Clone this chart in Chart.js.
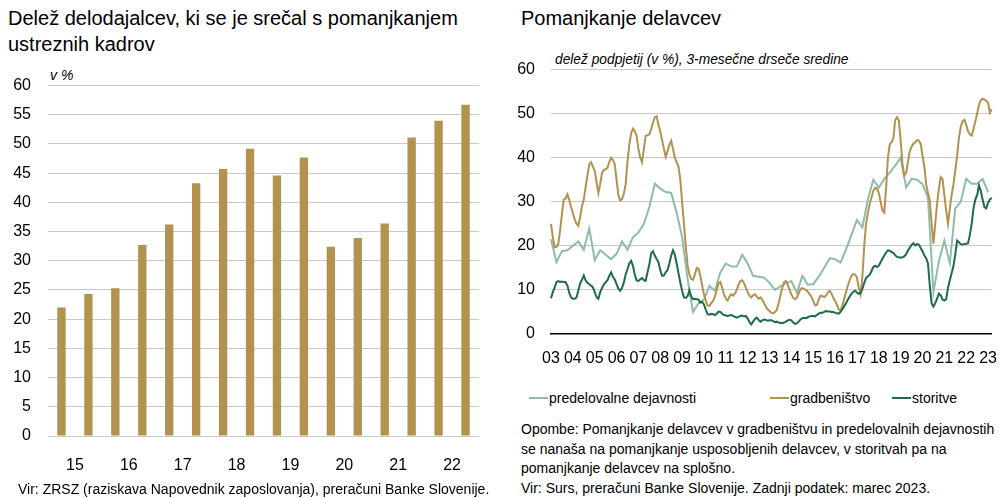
<!DOCTYPE html>
<html>
<head>
<meta charset="utf-8">
<script src="https://cdn.jsdelivr.net/npm/chart.js@4.4.1/dist/chart.umd.min.js"></script>
<style>
  body { margin: 0; background: #fff; font-family: 'Liberation Sans', Arial, sans-serif; color: #000; }
  #page { position: relative; width: 999px; height: 498px; overflow: hidden; }
  .txt { position: absolute; white-space: nowrap; }
  .title { font-size: 20px; line-height: 26px; }
  .small { font-size: 14px; line-height: 19.5px; }
  .it { font-style: italic; font-size: 13.75px; }
  .lg { position: absolute; font-size: 14px; white-space: nowrap; top: 390px; }
  .lg i { display: inline-block; width: 19px; height: 2px; vertical-align: middle; margin-right: 1px; position: relative; top: -1px; }
  canvas { position: absolute; }
</style>
</head>
<body>
<div id="page">
  <div class="txt title" style="left:8px; top:5px;">Delež delodajalcev, ki se je srečal s pomanjkanjem<br>ustreznih kadrov</div>
  <div class="txt it" style="left:50px; top:67px; font-size:14px;">v %</div>
  <div id="leftBox" style="position:absolute; left:0; top:59px; width:500px; height:423px;"><canvas id="bars"></canvas></div>
  <div class="txt small" style="left:18px; top:480px;">Vir: ZRSZ (raziskava Napovednik zaposlovanja), preračuni Banke Slovenije.</div>

  <div class="txt title" style="left:521px; top:5px;">Pomanjkanje delavcev</div>
  <div class="txt it" style="left:555px; top:52px;">delež podpjetij (v %), 3-mesečne drseče sredine</div>
  <div id="rightBox" style="position:absolute; left:510px; top:44px; width:494px; height:337px;"><canvas id="lines"></canvas></div>
  <div class="lg" style="left:529px;"><i style="background:#8fbca9"></i>predelovalne dejavnosti</div>
  <div class="lg" style="left:770px;"><i style="background:#b3924f"></i>gradbeništvo</div>
  <div class="lg" style="left:892px;"><i style="background:#1e6b4a"></i>storitve</div>
  <div class="txt small" style="left:521px; top:420px;">Opombe: Pomanjkanje delavcev v gradbeništvu in predelovalnih dejavnostih<br>se nanaša na pomanjkanje usposobljenih delavcev, v storitvah pa na<br>pomanjkanje delavcev na splošno.<br>Vir: Surs, preračuni Banke Slovenije. Zadnji podatek: marec 2023.</div>
</div>

<script>
// left panel: two surveys per year
const surveyPeriods = ['2015 I', '2015 II', '2016 I', '2016 II', '2017 I', '2017 II', '2018 I', '2018 II',
  '2019 I', '2019 II', '2020 I', '2020 II', '2021 I', '2021 II', '2022 I', '2022 II'];
const barYearTicks = ['15', '16', '17', '18', '19', '20', '21', '22'];
const employerShare = [22.0, 24.3, 25.3, 32.7, 36.2, 43.3, 45.7, 49.2, 44.6, 47.7, 32.4, 33.9, 36.4, 51.1, 54.0, 56.7];

// right panel: monthly, Jan 2003 - Mar 2023
const lineYearTicks = ['03', '04', '05', '06', '07', '08', '09', '10', '11', '12', '13', '14', '15', '16', '17', '18', '19', '20', '21', '22', '23'];
const months = [];
for (let y = 2003; y <= 2023; y++) {
  for (let m = 1; m <= 12; m++) {
    if (y === 2023 && m > 3) break;
    months.push(y + '-' + String(m).padStart(2, '0'));
  }
}

// manufacturing is quarterly (Jan, Apr, Jul, Oct)
const manufacturingQ = [
  21.5, 16.3, 18.8, 19.0, 20.0, 21.0, 19.1, 24.0, 16.8, 19.0, 18.0, 17.0,
  18.2, 21.0, 19.1, 22.0, 23.0, 25.0, 28.8, 34.1, 33.0, 32.2, 32.0, 27.5,
  22.0, 12.5, 5.0, 7.0, 7.8, 10.9, 9.8, 14.0, 16.0, 15.3, 15.3, 18.0,
  16.0, 13.2, 13.0, 12.8, 11.6, 10.0, 10.8, 11.5, 12.0, 9.3, 13.2, 11.2,
  11.3, 13.0, 15.0, 17.2, 17.0, 16.2, 19.2, 22.5, 25.9, 24.2, 30.5, 35.0,
  33.2, 35.2, 36.6, 38.2, 40.0, 33.3, 35.2, 35.0, 34.0, 31.0, 9.5, 16.5,
  21.2, 16.0, 28.5, 30.0, 35.2, 34.1, 34.1, 35.2, 32.2
];

const construction = [
  25.0, 22.0, 19.7, 19.8, 20.4, 23.5, 27.2, 30.5, 30.7, 31.7, 30.5, 28.8,
  27.5, 26.0, 25.0, 24.5, 26.5, 29.0, 30.5, 33.3, 36.0, 38.5, 39.0, 38.0,
  37.0, 34.5, 32.0, 34.0, 36.5, 37.2, 37.4, 37.7, 39.0, 40.0, 39.5, 38.5,
  35.0, 31.5, 30.3, 30.6, 31.8, 34.0, 39.0, 43.0, 45.5, 46.6, 46.0, 45.0,
  42.0, 40.0, 39.0, 42.0, 45.0, 45.1, 45.3, 46.5, 48.0, 49.2, 49.4, 47.5,
  46.0, 44.0, 42.0, 40.2, 41.5, 43.0, 43.8, 42.0, 40.0, 39.0, 38.0, 35.0,
  30.0, 25.0, 20.0, 15.5, 13.5, 12.5, 12.3, 13.5, 15.0, 14.8, 13.2, 11.0,
  9.0, 7.5, 6.5, 6.4, 7.0, 7.5, 8.5, 10.0, 11.5, 11.8, 10.5, 9.0,
  8.0, 7.6, 8.5, 9.0, 8.7, 9.2, 10.0, 11.2, 12.0, 12.2, 11.5, 10.5,
  9.5, 8.7, 8.3, 8.8, 9.0, 8.5, 8.0, 8.3, 7.8, 7.0, 6.2, 5.6,
  5.2, 4.8, 4.7, 5.0, 5.5, 7.0, 8.8, 10.5, 11.8, 12.0, 11.2, 10.0,
  9.0, 8.2, 7.9, 8.2, 9.2, 10.2, 10.4, 10.2, 10.0, 9.6, 9.0, 8.5,
  7.5, 6.5, 6.6, 7.8, 8.7, 8.6, 8.4, 8.7, 9.4, 9.8, 9.2, 8.2,
  7.5, 6.6, 5.6, 5.3, 6.5, 8.0, 9.5, 11.0, 12.2, 13.2, 13.6, 13.5,
  12.8, 10.5, 9.0, 13.0, 20.0, 25.0, 27.5, 29.5, 31.0, 32.5, 33.2, 33.0,
  32.0, 30.0, 28.0, 27.5, 33.0, 40.0, 43.0, 43.5, 44.5, 48.5, 49.2, 48.5,
  44.0, 38.5, 36.0, 36.5, 39.0, 41.5, 42.5, 43.2, 43.5, 44.0, 43.9, 43.2,
  40.5, 38.0, 34.0, 32.0, 30.3, 25.0, 20.5, 25.0, 29.5, 33.0, 35.6, 35.2,
  31.5, 28.0, 25.0, 28.5, 31.5, 34.0, 37.0, 40.5, 44.5, 47.0, 48.3, 48.6,
  47.5, 46.0, 45.3, 45.0, 46.5, 48.2, 50.0, 52.0, 53.0, 53.4, 53.2, 52.9,
  52.5, 50.2, 51.0
];

const services = [
  8.1, 9.5, 10.5, 11.8, 12.0, 11.8, 11.9, 11.8, 11.8, 11.0, 9.4, 8.3,
  8.0, 8.0, 8.3, 9.8, 11.5, 12.3, 13.3, 12.2, 11.6, 11.3, 11.0, 10.6,
  9.5, 8.4, 8.0, 9.5, 10.4, 11.2, 11.7, 12.2, 13.2, 14.0, 13.0, 12.4,
  11.3, 10.3, 9.8, 10.5, 11.7, 13.5, 14.7, 16.0, 16.6, 15.5, 13.5, 12.2,
  12.0, 12.4, 12.7, 12.2, 12.1, 14.0, 15.8, 18.3, 18.8, 17.8, 17.0, 16.3,
  14.5, 13.2, 13.3, 14.0, 14.5, 16.0, 17.8, 19.0, 18.0, 16.0, 13.8, 11.7,
  9.8, 8.3, 8.2, 8.6, 9.9, 8.5, 7.9, 8.0, 7.9, 7.8, 7.1, 7.3,
  6.7, 5.5, 4.5, 4.4, 4.6, 4.5, 4.3, 4.6, 5.1, 5.0, 4.6, 4.3,
  4.2, 4.1, 4.2, 4.3, 4.1, 3.9, 3.7, 3.9, 4.1, 4.2, 4.0, 4.1,
  3.5, 2.7, 2.2, 2.8, 3.4, 3.7, 3.2, 2.8, 3.1, 3.3, 3.2, 3.0,
  3.1, 3.1, 2.9, 2.7, 2.8, 2.6, 2.5, 2.5, 2.6, 2.8, 3.1, 3.2,
  3.1, 2.6, 2.3, 2.4, 2.8, 3.3, 3.6, 3.7, 3.6, 3.8, 4.0, 4.1,
  4.1, 4.0, 4.3, 4.6, 4.8, 4.8, 5.0, 5.2, 5.1, 5.1, 5.0, 5.0,
  4.8, 4.7, 4.6, 5.0, 5.6, 6.3, 7.0, 7.8, 8.5, 9.1, 9.6, 9.8,
  9.4, 9.1, 9.3, 10.3, 11.6, 12.7, 13.1, 13.4, 14.3, 15.2, 15.5, 15.2,
  15.5, 16.3, 17.1, 17.8, 18.5, 19.0, 18.9, 18.6, 18.4, 17.9, 17.5, 17.4,
  17.3, 17.4, 17.6, 18.1, 18.9, 19.6, 20.2, 20.6, 20.1, 20.4, 20.3, 19.5,
  18.8, 17.8, 17.2, 16.0, 11.0, 7.0, 6.2, 7.0, 8.0, 9.2, 8.8, 7.8,
  7.6, 7.9, 10.5, 12.2, 13.8, 15.5, 18.0, 21.2, 20.8, 20.4, 20.3, 20.4,
  20.5, 20.6, 22.5, 25.0, 28.5, 30.5, 31.5, 33.7, 32.5, 30.5, 28.8, 28.5,
  29.8, 30.5, 30.9
];

const FONT = "'Liberation Sans', Arial, sans-serif";
const GOLD = '#b3924f';
const LIGHT = '#8fbca9';
const DARK = '#1e6b4a';
const GRID = '#c9c9c9';

Chart.defaults.font.family = FONT;
Chart.defaults.color = '#000';

new Chart(document.getElementById('bars'), {
  type: 'bar',
  data: {
    labels: surveyPeriods,
    datasets: [{
      data: employerShare,
      backgroundColor: GOLD,
      barPercentage: 0.31,
      categoryPercentage: 1
    }]
  },
  options: {
    responsive: true,
    maintainAspectRatio: false,
    animation: false,
    layout: { padding: { top: 14, right: 21, left: 0, bottom: 0 } },
    plugins: { legend: { display: false }, tooltip: { enabled: false } },
    scales: {
      x: {
        grid: { display: false },
        border: { display: false },
        ticks: {
          font: { size: 16 },
          padding: 12,
          maxRotation: 0,
          autoSkip: false,
          labelOffset: 13.5,
          callback: (v, i) => (i % 2 === 0 ? barYearTicks[i / 2] : null)
        },
        afterFit: s => { s.height = 46; }
      },
      y: {
        min: 0,
        max: 60,
        ticks: { stepSize: 5, font: { size: 16 }, padding: 17 },
        grid: { color: GRID, drawTicks: false },
        border: { display: false },
        afterFit: s => { s.width = 48; }
      }
    }
  }
});

const manufacturing = months.map((m, i) => (i % 3 === 0 ? manufacturingQ[i / 3] : null));

new Chart(document.getElementById('lines'), {
  type: 'line',
  data: {
    labels: months,
    datasets: [
      { label: 'storitve', data: services, borderColor: DARK, borderWidth: 2, pointRadius: 0, tension: 0 },
      { label: 'gradbeništvo', data: construction, borderColor: GOLD, borderWidth: 2, pointRadius: 0, tension: 0 },
      { label: 'predelovalne dejavnosti', data: manufacturing, borderColor: LIGHT, borderWidth: 2, pointRadius: 0, tension: 0, spanGaps: true }
    ]
  },
  options: {
    responsive: true,
    maintainAspectRatio: false,
    animation: false,
    layout: { padding: { top: 8, right: 5, left: 0, bottom: 0 } },
    plugins: { legend: { display: false }, tooltip: { enabled: false } },
    scales: {
      x: {
        offset: false,
        grid: { display: false },
        border: { display: true, color: '#000', width: 1.5 },
        ticks: {
          font: { size: 16 },
          padding: 7,
          maxRotation: 0,
          autoSkip: false,
          callback: (v, i) => (i % 12 === 0 ? lineYearTicks[i / 12] : null)
        },
        afterFit: s => { s.height = 47; }
      },
      y: {
        min: 0,
        max: 60,
        ticks: { stepSize: 10, font: { size: 16 }, padding: 16 },
        grid: { color: c => (c.tick.value === 0 ? 'rgba(0,0,0,0)' : GRID), drawTicks: false },
        border: { display: false },
        afterFit: s => { s.width = 41; }
      }
    }
  }
});
</script>
</body>
</html>
